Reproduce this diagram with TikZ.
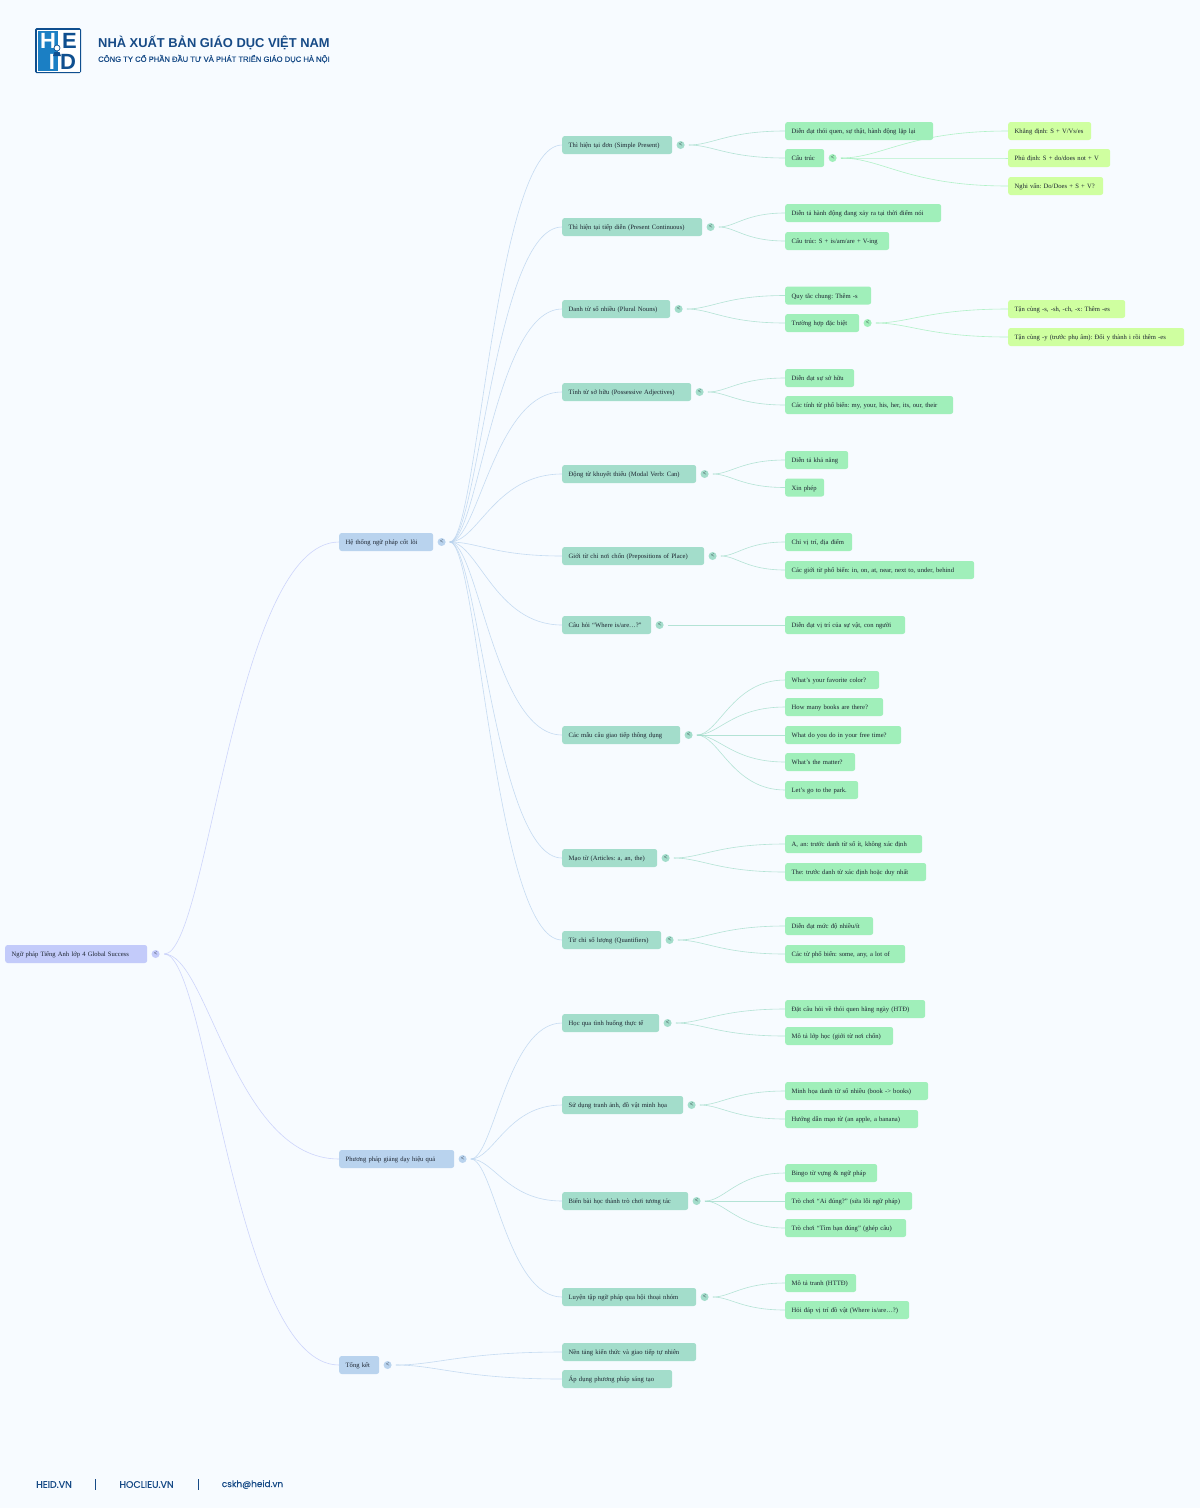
\documentclass[tikz,border=0pt]{standalone}
\usepackage{fontspec}
\setmainfont{Liberation Serif}
\newfontfamily\headfont{Liberation Sans}
\newfontfamily\headmed[FakeBold=0.35]{Liberation Sans}
\newfontfamily\footfont[FakeBold=0.35]{Poppins}
\usetikzlibrary{positioning,calc}
\frenchspacing
\definecolor{pagebg}{HTML}{F7FBFF}
\definecolor{rootcol}{HTML}{C3CBFA}
\definecolor{onecol}{HTML}{B9D3EE}
\definecolor{twocol}{HTML}{A3DDCB}
\definecolor{threecol}{HTML}{A0EFBA}
\definecolor{fourcol}{HTML}{CFFFA0}
\definecolor{inkcol}{HTML}{1C2430}
\definecolor{headcol}{HTML}{164A86}
\definecolor{logodark}{HTML}{0F4F8F}
\definecolor{logomid}{HTML}{1B7FC4}
\tikzset{
	box/.style={anchor=west,rounded corners=2.5pt,font=\fontsize{6.6}{7}\selectfont,text=inkcol,align=left,inner xsep=6.5pt,inner ysep=0pt,minimum height=18pt,text height=6pt,text depth=1pt},
	toggle/.style={circle,fill=#1,minimum size=8pt,inner sep=0pt,text=inkcol,font=\fontsize{6.5}{6.5}\selectfont},
	link/.style={draw=#1,draw opacity=0.8,line width=0.6pt,to path={let \p1=(\tikztostart),\p2=(\tikztotarget),\n1={\x2-\x1} in .. controls (\x1+0.25*\n1,\y1) and (\x2-0.6*\n1,\y2) .. (\tikztotarget)}},
	logoletter/.style={font=\headfont\bfseries\fontsize{22}{22}\selectfont,inner sep=0pt},
	foottext/.style={inner sep=0pt,text=headcol,font=\footfont\fontsize{#1}{10}\selectfont}
}
\begin{document}
\begin{tikzpicture}[x=1pt,y=-1pt]
	\path[fill=pagebg,use as bounding box] (0,0) rectangle (1200,1508);
	% header
	\fill[logodark,rounded corners=1.5pt] (35,28) rectangle (81,73);
	\fill[white] (36.5,29.5) rectangle (79.5,71.5);
	\fill[logomid] (37.5,30.5) rectangle (58,70.5);
	\node[logoletter,text=white] (logoh) at (48,41) {H};
	\node[logoletter,text=logodark] (logoe) at (69.5,41) {E};
	\node[logoletter,text=white] (logoi) at (52,61.5) {I};
	\node[logoletter,text=logodark] (logod) at (68,61.5) {D};
	\draw[logodark,fill=white,line width=0.7pt] (57,48) circle (3pt);
	\fill[logodark] (54.5,52) -- (59.5,52) -- (61,56) -- (53,56) -- cycle;
	\node[anchor=west,inner sep=0pt,text=headcol,font=\headfont\bfseries\fontsize{12.9}{14}\selectfont] (title) at (98,43) {NHÀ XUẤT BẢN GIÁO DỤC VIỆT NAM};
	\node[anchor=west,inner sep=0pt,text=headcol,font=\headmed\fontsize{7.64}{9}\selectfont] (subtitle) at (98,59) {CÔNG TY CỔ PHẦN ĐẦU TƯ VÀ PHÁT TRIỂN GIÁO DỤC HÀ NỘI};
	% root and first level
	\node[box,fill=rootcol,text width=129pt] (root) at (5,954) {Ngữ pháp Tiếng Anh lớp 4 Global Success};
	\node[toggle=rootcol,right=4pt of root] (troot) {<};
	\foreach \nm/\yy/\ww/\txt in {
		hethong/542/81/{Hệ thống ngữ pháp cốt lõi},
		phuongphap/1159/102/{Phương pháp giảng dạy hiệu quả},
		tongket/1365/27/{Tổng kết}}{
		\node[box,fill=onecol,text width=\ww pt] (\nm) at (339,\yy) {\txt};
		\node[toggle=onecol,right=4pt of \nm] (t\nm) {<};
		\draw[link=rootcol] ([xshift=4.5pt]troot.east) to (\nm.west);
	}
	% second level
	\foreach \nm/\src/\yy/\ww/\txt in {
		donpres/hethong/145/97/{Thì hiện tại đơn (Simple Present)},
		tiepdien/hethong/227/127/{Thì hiện tại tiếp diễn (Present Continuous)},
		sonhieu/hethong/309/95/{Danh từ số nhiều (Plural Nouns)},
		sohuu/hethong/392/116/{Tính từ sở hữu (Possessive Adjectives)},
		khuyetthieu/hethong/474/121/{Động từ khuyết thiếu (Modal Verb: Can)},
		gioitu/hethong/556/129/{Giới từ chỉ nơi chốn (Prepositions of Place)},
		cauhoi/hethong/625/76/{Câu hỏi “Where is/are…?”},
		mauco/hethong/735/105/{Các mẫu câu giao tiếp thông dụng},
		maotu/hethong/858/82/{Mạo từ (Articles: a, an, the)},
		soluong/hethong/940/86/{Từ chỉ số lượng (Quantifiers)},
		tinhhuong/phuongphap/1023/84/{Học qua tình huống thực tế},
		tranhanh/phuongphap/1105/108/{Sử dụng tranh ảnh, đồ vật minh họa},
		trochoi/phuongphap/1201/113/{Biến bài học thành trò chơi tương tác},
		hoithoai/phuongphap/1297/121/{Luyện tập ngữ pháp qua hội thoại nhóm},
		nentang/tongket/1352/121/{Nền tảng kiến thức và giao tiếp tự nhiên},
		sangtao/tongket/1379/97/{Áp dụng phương pháp sáng tạo}}{
		\node[box,fill=twocol,text width=\ww pt] (\nm) at (562,\yy) {\txt};
		\draw[link=onecol] ([xshift=4pt]t\src.east) to (\nm.west);
	}
	\foreach \nm in {donpres,tiepdien,sonhieu,sohuu,khuyetthieu,gioitu,cauhoi,mauco,maotu,soluong,tinhhuong,tranhanh,trochoi,hoithoai}
		\node[toggle=twocol,right=4pt of \nm] (t\nm) {<};
	% third level
	\foreach \nm/\src/\yy/\ww/\txt in {
		thoiquen/donpres/131/135/{Diễn đạt thói quen, sự thật, hành động lặp lại},
		cautruc/donpres/158/26/{Cấu trúc},
		hanhdong/tiepdien/213/143/{Diễn tả hành động đang xảy ra tại thời điểm nói},
		isamare/tiepdien/241/91/{Cấu trúc: S + is/am/are + V-ing},
		quytac/sonhieu/295.5/73/{Quy tắc chung: Thêm -s},
		dacbiet/sonhieu/323/61/{Trường hợp đặc biệt},
		dienso/sohuu/378/56/{Diễn đạt sự sở hữu},
		tinhtu/sohuu/405/155/{Các tính từ phổ biến: my, your, his, her, its, our, their},
		khanang/khuyetthieu/460/50/{Diễn tả khả năng},
		xinphep/khuyetthieu/487.5/26/{Xin phép},
		vitri/gioitu/542/54/{Chỉ vị trí, địa điểm},
		phobien/gioitu/570/176/{Các giới từ phổ biến: in, on, at, near, next to, under, behind},
		suvat/cauhoi/625/107/{Diễn đạt vị trí của sự vật, con người},
		color/mauco/680/81/{What's your favorite color?},
		books/mauco/707/85/{How many books are there?},
		freetime/mauco/735/103/{What do you do in your free time?},
		matter/mauco/762/57/{What's the matter?},
		park/mauco/790/60/{Let's go to the park.},
		aan/maotu/844/124/{A, an: trước danh từ số ít, không xác định},
		the/maotu/872/128/{The: trước danh từ xác định hoặc duy nhất},
		mucdo/soluong/926/75/{Diễn đạt mức độ nhiều/ít},
		tuphobien/soluong/954/107/{Các từ phổ biến: some, any, a lot of},
		hangngay/tinhhuong/1009/127/{Đặt câu hỏi về thói quen hằng ngày (HTĐ)},
		lophoc/tinhhuong/1036/95/{Mô tả lớp học (giới từ nơi chốn)},
		minhhoa/tranhanh/1091/130/{Minh họa danh từ số nhiều (book -> books)},
		huongdan/tranhanh/1119/120/{Hướng dẫn mạo từ (an apple, a banana)},
		bingo/trochoi/1173/79/{Bingo từ vựng \& ngữ pháp},
		aidung/trochoi/1201/114/{Trò chơi “Ai đúng?” (sửa lỗi ngữ pháp)},
		bandung/trochoi/1228/108/{Trò chơi “Tìm bạn đúng” (ghép câu)},
		tranh/hoithoai/1283/58/{Mô tả tranh (HTTĐ)},
		hoidap/hoithoai/1310/111/{Hỏi đáp vị trí đồ vật (Where is/are…?)}}{
		\node[box,fill=threecol,text width=\ww pt] (\nm) at (785,\yy) {\txt};
		\draw[link=twocol] ([xshift=4pt]t\src.east) to (\nm.west);
	}
	\node[toggle=threecol,right=4pt of cautruc] (tcautruc) {<};
	\node[toggle=threecol,right=4pt of dacbiet] (tdacbiet) {<};
	% last level
	\foreach \nm/\src/\yy/\ww/\txt in {
		khangdinh/cautruc/131/70/{Khẳng định: S + V/Vs/es},
		phudinh/cautruc/158/89/{Phủ định: S + do/does not + V},
		nghivan/cautruc/186/82/{Nghi vấn: Do/Does + S + V?},
		tancungs/dacbiet/309/104/{Tận cùng -s, -sh, -ch, -x: Thêm -es},
		tancungy/dacbiet/337/163/{Tận cùng -y (trước phụ âm): Đổi y thành i rồi thêm -es}}{
		\node[box,fill=fourcol,text width=\ww pt] (\nm) at (1008,\yy) {\txt};
		\draw[link=threecol] ([xshift=4pt]t\src.east) to (\nm.west);
	}
	% footer
	\node[foottext=9.5] (heid) at (54,1484.5) {HEID.VN};
	\node[foottext=9.5] (hoclieu) at (146.5,1484.5) {HOCLIEU.VN};
	\node[foottext=8.9] (cskh) at (252.5,1484.5) {cskh@heid.vn};
	\draw[headcol,line width=1pt] (95,1479) -- (95,1490);
	\draw[headcol,line width=1pt] (198,1479) -- (198,1490);
\end{tikzpicture}
\end{document}
